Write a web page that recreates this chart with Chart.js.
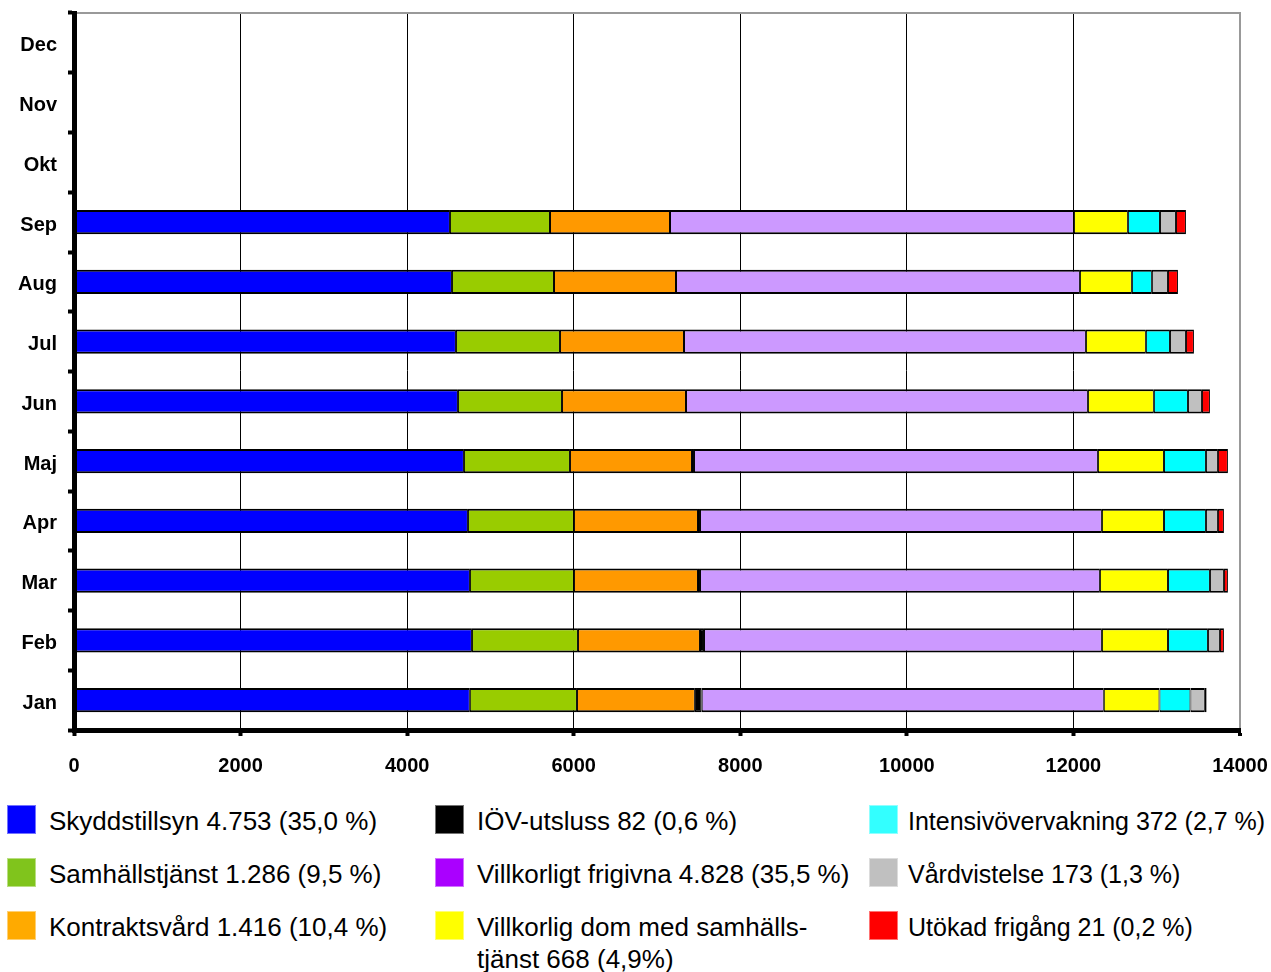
<!DOCTYPE html>
<html lang="sv">
<head>
<meta charset="utf-8">
<script src="https://cdn.jsdelivr.net/npm/chart.js@4.4.1/dist/chart.umd.min.js"></script>
<style>
    html, body { margin: 0; padding: 0; background: #fff; }
    #wrap { position: relative; width: 1271px; height: 972px; font-family: "Liberation Sans", Arial, sans-serif; overflow: hidden; }
    #chartBox { position: absolute; left: 0; top: 0; width: 1271px; height: 795px; }
    .sw { position: absolute; width: 29px; height: 29px; box-sizing: border-box; border: 1px solid rgba(255,255,255,0.45); }
    .lbl { position: absolute; font-size: 26px; line-height: 32px; color: #000; white-space: pre; }
    .lbl.narrow { font-size: 25px; }
</style>
</head>
<body>
<div id="wrap">
    <div id="chartBox"><canvas id="monthChart"></canvas></div>
    <div id="legend"></div>
</div>
<script>
// Months, bottom (Jan) to top (Dec)
const months = ['Jan', 'Feb', 'Mar', 'Apr', 'Maj', 'Jun', 'Jul', 'Aug', 'Sep', 'Okt', 'Nov', 'Dec'];
const xTicks = [0, 2000, 4000, 6000, 8000, 10000, 12000, 14000];

// Values per month (Jan..Sep)
const skyddstillsyn   = [4753, 4778, 4754, 4730, 4682, 4610, 4586, 4538, 4514];
const samhallstjanst  = [1286, 1273, 1249, 1273, 1273, 1249, 1249, 1225, 1201];
const kontraktsvard   = [1416, 1465, 1489, 1489, 1465, 1489, 1489, 1465, 1441];
const iovUtsluss      = [82, 48, 24, 24, 24, 0, 0, 0, 0];
const villkorligtFrig = [4828, 4778, 4802, 4826, 4850, 4826, 4826, 4850, 4850];
const villkorligDom   = [668, 793, 817, 745, 793, 792, 720, 624, 648];
const intensivoverv   = [372, 480, 504, 504, 504, 409, 289, 240, 385];
const vardvistelse    = [173, 144, 168, 144, 144, 168, 192, 193, 192];
const utokadFrigang   = [21, 48, 48, 72, 120, 96, 96, 120, 120];

const seriesData = [skyddstillsyn, samhallstjanst, kontraktsvard, iovUtsluss, villkorligtFrig,
    villkorligDom, intensivoverv, vardvistelse, utokadFrigang];
const barColors = ['#0000FF', '#99CC00', '#FF9900', '#000000', '#CC99FF', '#FFFF00', '#00FFFF', '#C0C0C0', '#FF0000'];
const swatchColors = ['#0000FF', '#80C41C', '#FFAA00', '#000000', '#AA00FF', '#FFFF00', '#33FFFF', '#C0C0C0', '#FF0000'];
const legendLabels = [
    'Skyddstillsyn 4.753 (35,0 %)',
    'Samhällstjänst 1.286 (9,5 %)',
    'Kontraktsvård 1.416 (10,4 %)',
    'IÖV-utsluss 82 (0,6 %)',
    'Villkorligt frigivna 4.828 (35,5 %)',
    'Villkorlig dom med samhälls-\ntjänst 668 (4,9%)',
    'Intensivövervakning 372 (2,7 %)',
    'Vårdvistelse 173 (1,3 %)',
    'Utökad frigång 21 (0,2 %)'
];

const FONT = '"Liberation Sans", Arial, sans-serif';

document.addEventListener('DOMContentLoaded', () => {
    initChart();
    initLegend();
});

function initChart() {
    const ctx = document.getElementById('monthChart');
    // months without data (Okt-Dec) stay empty
    const pad = arr => months.map((m, i) => i < arr.length ? arr[i] : null);

    new Chart(ctx.getContext('2d'), {
        type: 'bar',
        data: {
            labels: months,
            datasets: seriesData.map((arr, i) => ({
                label: legendLabels[i],
                data: pad(arr),
                backgroundColor: barColors[i],
                borderColor: '#000',
                borderWidth: { top: 2, bottom: 2, left: 1, right: 1 },
                borderSkipped: false,
                categoryPercentage: 1,
                barPercentage: 0.41
            }))
        },
        options: {
            indexAxis: 'y',
            responsive: true,
            maintainAspectRatio: false,
            animation: false,
            layout: { padding: { top: 13, right: 31, left: 0, bottom: 0 } },
            plugins: {
                legend: { display: false },
                tooltip: { enabled: false }
            },
            scales: {
                x: {
                    type: 'linear',
                    stacked: true,
                    min: 0,
                    max: 14000,
                    afterBuildTicks: scale => { scale.ticks = xTicks.map(v => ({ value: v })); },
                    grid: {
                        color: c => (c.tick && c.tick.value === 14000) ? '#999' : '#000',
                        lineWidth: c => (c.tick && c.tick.value === 14000) ? 2 : 1,
                        tickColor: '#000',
                        tickWidth: 4,
                        tickLength: 6
                    },
                    border: { color: '#000', width: 5, z: 1 },
                    ticks: {
                        color: '#000',
                        font: { family: FONT, size: 20, weight: 'bold' },
                        padding: 18,
                        maxRotation: 0,
                        callback: value => String(value)
                    },
                    afterFit: scale => {
                        scale.height = 65;
                        scale.paddingLeft = 0;
                        scale.paddingRight = 0;
                    }
                },
                xTop: {
                    type: 'linear',
                    axis: 'x',
                    position: 'top',
                    min: 0,
                    max: 14000,
                    grid: { display: false },
                    ticks: { display: false },
                    border: { color: '#999', width: 2 },
                    afterFit: scale => {
                        scale.height = 0;
                        scale.paddingLeft = 0;
                        scale.paddingRight = 0;
                    }
                },
                y: {
                    stacked: true,
                    reverse: true,
                    grid: {
                        drawOnChartArea: false,
                        tickColor: '#000',
                        tickWidth: 4,
                        tickLength: 6
                    },
                    border: { color: '#000', width: 5, z: 1 },
                    ticks: {
                        color: '#000',
                        font: { family: FONT, size: 20, weight: 'bold' },
                        padding: 11,
                        labelOffset: 3
                    },
                    afterFit: scale => {
                        scale.width = 74;
                        scale.paddingTop = 0;
                        scale.paddingBottom = 0;
                    }
                }
            }
        }
    });
}

// Three-column legend, filled column by column
function initLegend() {
    const box = document.getElementById('legend');
    const swatchX = [7, 435, 869];
    const textX = [49, 477, 908];
    const rowY = [805, 858, 911];

    legendLabels.forEach((text, i) => {
        const col = Math.floor(i / 3);
        const row = i % 3;
        const sw = document.createElement('div');
        sw.className = 'sw';
        sw.style.left = swatchX[col] + 'px';
        sw.style.top = rowY[row] + 'px';
        sw.style.background = swatchColors[i];
        box.appendChild(sw);

        const lbl = document.createElement('div');
        lbl.className = col === 2 ? 'lbl narrow' : 'lbl';
        lbl.style.left = textX[col] + 'px';
        lbl.style.top = rowY[row] + 'px';
        lbl.textContent = text;
        box.appendChild(lbl);
    });
}
</script>
</body>
</html>
